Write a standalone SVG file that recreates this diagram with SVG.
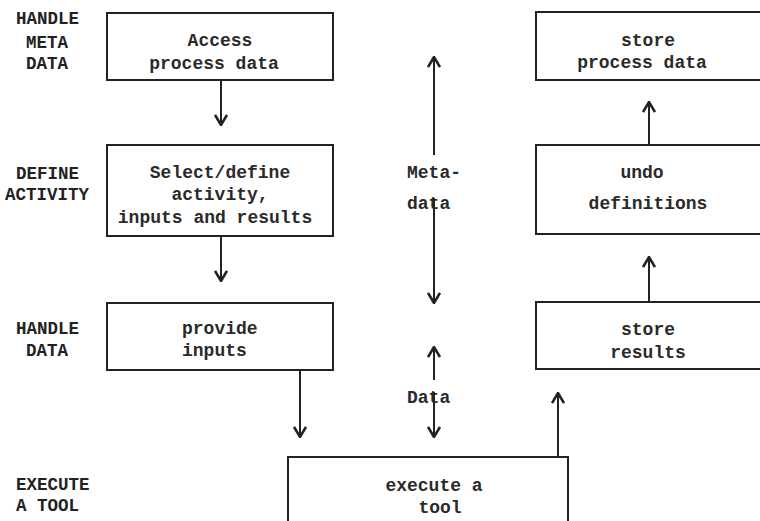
<svg xmlns="http://www.w3.org/2000/svg" width="760" height="521" viewBox="0 0 760 521">
  <style>
    .box { fill: #fff; stroke: #222; stroke-width: 2; }
    .t { font-family: "Liberation Mono", "Courier New", monospace; font-size: 18px; font-weight: bold; fill: #2a2a2a; }
    .lbl { font-family: "Liberation Mono", "Courier New", monospace; font-size: 17.5px; font-weight: bold; fill: #222; }
    .c { text-anchor: middle; }
    .wire { fill: none; stroke: #222; stroke-width: 2; marker-end: url(#head); }
  </style>
  <defs>
    <marker id="head" viewBox="0 0 12 14" refX="11" refY="7" markerWidth="12" markerHeight="14" markerUnits="userSpaceOnUse" orient="auto">
      <path d="M1,1 L11,7 L1,13" fill="none" stroke="#222" stroke-width="2.6" stroke-linejoin="miter"/>
    </marker>
  </defs>
  <rect width="760" height="521" fill="#fff"/>

  <!-- phase labels -->
  <g id="phase-labels" class="lbl">
    <text x="16" y="24">HANDLE</text>
    <text x="26" y="48">META</text>
    <text x="26" y="69">DATA</text>
    <text x="16" y="179">DEFINE</text>
    <text x="5" y="200">ACTIVITY</text>
    <text x="16" y="334">HANDLE</text>
    <text x="26" y="356">DATA</text>
    <text x="16" y="490">EXECUTE</text>
    <text x="16" y="511">A TOOL</text>
  </g>

  <g id="access">
    <rect class="box" x="107" y="13" width="226" height="67"/>
    <text class="t c" x="220" y="46">Access</text>
    <text class="t c" x="214" y="69">process data</text>
  </g>

  <g id="select">
    <rect class="box" x="107" y="145" width="226" height="91"/>
    <text class="t c" x="220" y="178">Select/define</text>
    <text class="t c" x="220" y="200">activity,</text>
    <text class="t c" x="215" y="223">inputs and results</text>
  </g>

  <g id="provide">
    <rect class="box" x="107" y="303" width="226" height="67"/>
    <text class="t" x="182" y="334">provide</text>
    <text class="t" x="182" y="356">inputs</text>
  </g>

  <g id="execute">
    <rect class="box" x="288" y="457" width="280" height="80"/>
    <text class="t c" x="434" y="491">execute a</text>
    <text class="t c" x="440" y="513">tool</text>
  </g>

  <g id="store-process">
    <rect class="box" x="536" y="12" width="240" height="68"/>
    <text class="t c" x="648" y="46">store</text>
    <text class="t c" x="642" y="68">process data</text>
  </g>

  <g id="undo">
    <rect class="box" x="536" y="145" width="240" height="89"/>
    <text class="t c" x="642" y="178">undo</text>
    <text class="t c" x="648" y="209">definitions</text>
  </g>

  <g id="store-results">
    <rect class="box" x="536" y="302" width="240" height="67"/>
    <text class="t c" x="648" y="335">store</text>
    <text class="t c" x="648" y="358">results</text>
  </g>

  <g id="exchange-labels">
    <text class="t c" x="434" y="178">Meta-</text>
    <text class="t" x="407" y="209">data</text>
    <text class="t" x="407" y="403">Data</text>
  </g>

  <g id="connectors">
    <path class="wire" d="M221,80 V125"/>
    <path class="wire" d="M221,236 V281"/>
    <path class="wire" d="M300,370 V437"/>
    <path class="wire" d="M558,457 V393"/>
    <path class="wire" d="M649,302 V257"/>
    <path class="wire" d="M649,145 V102"/>
    <path class="wire" d="M434,155 V57"/>
    <path class="wire" d="M434,198 V303"/>
    <path class="wire" d="M434,380 V347"/>
    <path class="wire" d="M434,392 V437"/>
  </g>
</svg>
